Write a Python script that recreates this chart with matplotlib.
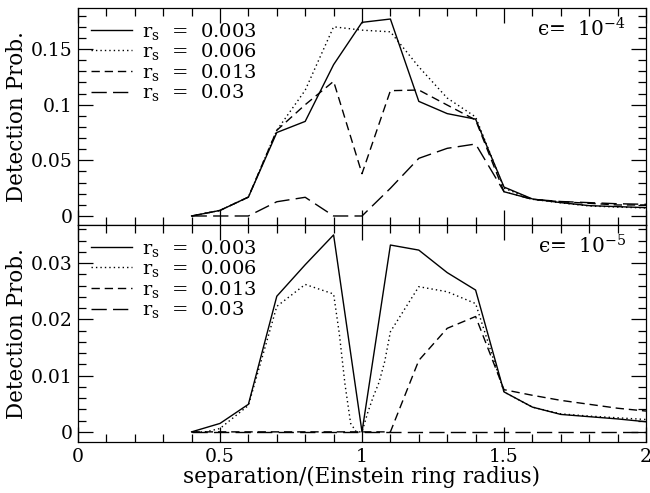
import matplotlib
matplotlib.use("Agg")
import matplotlib.pyplot as plt
from matplotlib.ticker import MultipleLocator

plt.rcParams["font.family"] = ["DejaVu Serif", "DejaVu Sans"]
plt.rcParams["mathtext.fontset"] = "dejavuserif"

# separation grid (Einstein ring radii)
sep = [0.4, 0.5, 0.6, 0.7, 0.8, 0.9, 1.0, 1.1, 1.2, 1.3, 1.4,
       1.5, 1.6, 1.7, 1.8, 1.9, 2.0]

# epsilon = 1e-4
p4_rs003 = [0.0, 0.005, 0.017, 0.075, 0.085, 0.136, 0.174, 0.177, 0.103,
            0.092, 0.087, 0.026, 0.0153, 0.012, 0.0093, 0.0084, 0.0075]
p4_rs006 = [0.0, 0.005, 0.017, 0.077, 0.113, 0.170, 0.167, 0.1655, 0.134,
            0.106, 0.089, 0.025, 0.015, 0.0118, 0.009, 0.008, 0.0072]
p4_rs013 = [0.0, 0.005, 0.017, 0.077, 0.100, 0.121, 0.038, 0.1126, 0.1132,
            0.0997, 0.0863, 0.0218, 0.015, 0.0128, 0.0114, 0.0099, 0.0099]
p4_rs03 = [0.0, 0.0, 0.0, 0.0128, 0.0168, 0.0, 0.0, 0.0249, 0.0518,
           0.0608, 0.0647, 0.0218, 0.015, 0.013, 0.012, 0.011, 0.0105]

# epsilon = 1e-5
p5_rs003 = [0.0, 0.0015, 0.0049, 0.0241, 0.0297, 0.035, 0.0, 0.0332, 0.0323,
            0.0283, 0.0252, 0.0071, 0.0044, 0.0031, 0.0027, 0.0023, 0.0018]
sep_fine = [0.4, 0.45, 0.5, 0.6, 0.7, 0.8, 0.9, 0.92, 0.94, 0.96, 0.98, 1.0,
            1.02, 1.04, 1.06, 1.08, 1.1, 1.2, 1.3, 1.4, 1.5, 1.6, 1.7, 1.8,
            1.9, 2.0]
p5_rs006 = [0.0, 0.0, 0.0006, 0.0047, 0.0223, 0.0262, 0.0245, 0.0175, 0.0085,
            0.0015, 0.0, 0.0, 0.0034, 0.0063, 0.0088, 0.0125, 0.0178, 0.0258,
            0.0249, 0.0228, 0.0071, 0.0044, 0.0032, 0.0028, 0.0025, 0.0022]
p5_rs013 = [0.0, 0.0, 0.0, 0.0, 0.0, 0.0, 0.0, 0.0, 0.0127, 0.0184, 0.0205,
            0.0075, 0.0065, 0.0056, 0.0049, 0.0042, 0.0037]
p5_rs03 = [0.0] * 17

labels = [r"r$_{\rm s}$  =  0.003", r"r$_{\rm s}$  =  0.006",
          r"r$_{\rm s}$  =  0.013", r"r$_{\rm s}$  =  0.03"]

styles = [dict(linestyle="-"),
          dict(linestyle=(0, (1.0, 2.2))),
          dict(linestyle=(0, (6.0, 3.5))),
          dict(linestyle=(0, (11.0, 4.5)))]

fig = plt.figure(figsize=(6.5, 4.93), dpi=100)
L, R = 78 / 650, 646 / 650
ax1 = fig.add_axes([L, 1 - 225 / 493, R - L, 217 / 493])
ax2 = fig.add_axes([L, 1 - 442 / 493, R - L, 217 / 493], sharex=ax1)

lw = 1.0
top_series = [(sep, p4_rs003), (sep, p4_rs006), (sep, p4_rs013), (sep, p4_rs03)]
bot_series = [(sep, p5_rs003), (sep_fine, p5_rs006), (sep, p5_rs013), (sep, p5_rs03)]

for ax, series in ((ax1, top_series), (ax2, bot_series)):
    for (xs, ys), st, lab in zip(series, styles, labels):
        ax.plot(xs, ys, color="black", lw=lw, label=lab, **st)
    ax.legend(loc="upper left", frameon=False, fontsize=14,
              handlelength=2.15, handletextpad=0.5, labelspacing=-0.02,
              borderaxespad=0.35, borderpad=0.3)

ax1.set_ylim(-0.0081, 0.1869)
ax2.set_ylim(-0.0018, 0.03676)
ax1.set_xlim(0, 2)

ax1.yaxis.set_major_locator(MultipleLocator(0.05))
ax1.yaxis.set_minor_locator(MultipleLocator(0.01))
ax2.yaxis.set_major_locator(MultipleLocator(0.01))
ax2.yaxis.set_minor_locator(MultipleLocator(0.002))
ax2.xaxis.set_major_locator(MultipleLocator(0.5))
ax2.xaxis.set_minor_locator(MultipleLocator(0.1))

ax1.set_yticks([0, 0.05, 0.1, 0.15])
ax1.set_yticklabels(["0", "0.05", "0.1", "0.15"])
ax2.set_yticks([0, 0.01, 0.02, 0.03])
ax2.set_yticklabels(["0", "0.01", "0.02", "0.03"])
ax2.set_xticks([0, 0.5, 1, 1.5, 2])
ax2.set_xticklabels(["0", "0.5", "1", "1.5", "2"])

for ax in (ax1, ax2):
    ax.tick_params(which="both", direction="in", top=True, right=True,
                   labelsize=13.5, width=0.9)
    ax.tick_params(which="major", length=11, pad=4)
    ax.tick_params(which="minor", length=5.5)
    for sp in ax.spines.values():
        sp.set_linewidth(0.9)
    ax.set_ylabel("Detection Prob.", fontsize=15.5, labelpad=2)
ax1.tick_params(labelbottom=False)

ax2.set_xlabel("separation/(Einstein ring radius)", fontsize=15.5, labelpad=0)

ax1.text(0.965, 0.955, "\u03f5=  10$^{-4}$", transform=ax1.transAxes,
         ha="right", va="top", fontsize=14.5)
ax2.text(0.965, 0.955, "\u03f5=  10$^{-5}$", transform=ax2.transAxes,
         ha="right", va="top", fontsize=14.5)

fig.align_ylabels([ax1, ax2])
fig.savefig("out.png", dpi=100)
